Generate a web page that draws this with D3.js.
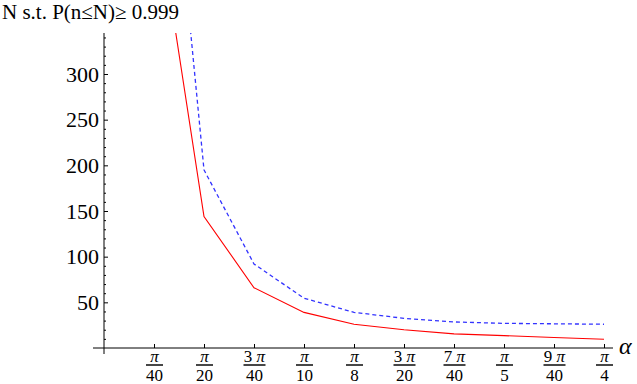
<!DOCTYPE html>
<html>
<head>
<meta charset="utf-8">
<script src="https://cdn.jsdelivr.net/npm/d3@7"></script>
<style>
  body { margin: 0; background: #fff; }
</style>
</head>
<body>
<div id="chart"></div>
<script>
// alpha values in units of pi/40
var alphaSteps = [1, 2, 3, 4, 5, 6, 7, 8, 9, 10];
var redN = [500, 144, 66, 39, 26, 20, 15.5, 13.5, 11.5, 9.5];
var blueN = [760, 195, 92, 54.5, 39, 32.5, 28.5, 27, 26.5, 26];

var yMajor = [50, 100, 150, 200, 250, 300];
var yMinor = d3.range(10, 350, 10).filter(function(v) { return v % 50 != 0; });
var tickCoef = ["", "", "3 ", "", "", "3 ", "7 ", "", "9 ", ""]; // numerator multiplier of pi
var tickDenom = ["40", "20", "40", "10", "8", "20", "40", "5", "40", "4"];

var width = 637, height = 384;
var serif = "Liberation Serif";

const svg = d3.select("#chart")
    .append("svg")
    .attr("width", width)
    .attr("height", height);

const x = d3.scaleLinear().domain([0, Math.PI / 4]).range([104, 604]);
const y = d3.scaleLinear().domain([0, 300]).range([348, 74]);

// plot area limits (a little padding around the axes)
const xLo = x.invert(93), xHi = x.invert(613);
const yLo = y.invert(354), yHi = y.invert(33);

svg.append("defs").append("clipPath")
    .attr("id", "plotClip")
    .append("rect")
    .attr("x", x(xLo))
    .attr("y", y(yHi))
    .attr("width", x(xHi) - x(xLo))
    .attr("height", y(yLo) - y(yHi));

// axes lines
svg.append("line")
    .attr("x1", x(xLo)).attr("x2", x(xHi))
    .attr("y1", y(0)).attr("y2", y(0))
    .attr("stroke", "#000");
svg.append("line")
    .attr("x1", x(0)).attr("x2", x(0))
    .attr("y1", y(yLo)).attr("y2", y(yHi))
    .attr("stroke", "#000");

// y axis: major ticks point inward, labels on the left
const yAxis = svg.append("g")
    .attr("transform", "translate(" + x(0) + ",0)")
    .attr("font-family", serif)
    .call(d3.axisLeft(y).tickValues(yMajor).tickSizeInner(-4).tickSizeOuter(0).tickPadding(5));
yAxis.attr("font-family", serif).attr("font-size", 22);
yAxis.select(".domain").remove();
yAxis.selectAll("text")
    .attr("font-family", serif)
    .attr("font-size", 22)
    .attr("dy", "0.33em")
    .attr("fill", "#000");

const yAxisMinor = svg.append("g")
    .attr("transform", "translate(" + x(0) + ",0)")
    .call(d3.axisLeft(y).tickValues(yMinor).tickSizeInner(-2).tickSizeOuter(0).tickFormat(""));
yAxisMinor.select(".domain").remove();

// x axis: ticks point up, fraction labels below
const xAxis = svg.append("g")
    .attr("transform", "translate(0," + y(0) + ")")
    .call(d3.axisBottom(x)
        .tickValues(alphaSteps.map(function(k) { return k * Math.PI / 40; }))
        .tickSizeInner(-4).tickSizeOuter(0).tickFormat(""));
xAxis.attr("font-family", serif);
xAxis.select(".domain").remove();

xAxis.selectAll(".tick").each(function(d, i) {
    const g = d3.select(this);
    const num = g.append("text")
        .attr("y", 13.5)
        .attr("text-anchor", "middle")
        .attr("font-family", serif)
        .attr("font-size", 17)
        .attr("fill", "#000");
    if (tickCoef[i]) num.append("tspan").text(tickCoef[i]);
    num.append("tspan").attr("font-style", "italic").text("\u03c0");
    const w = tickCoef[i] ? 11 : 8.5;
    g.append("line")
        .attr("x1", -w).attr("x2", w)
        .attr("y1", 17).attr("y2", 17)
        .attr("stroke", "#333")
        .attr("stroke-width", 1.8);
    g.append("text")
        .attr("y", 33)
        .attr("text-anchor", "middle")
        .attr("font-family", serif)
        .attr("font-size", 17)
        .attr("fill", "#000")
        .text(tickDenom[i]);
});

// the two curves
const line = d3.line()
    .x(function(d) { return x(d[0] * Math.PI / 40); })
    .y(function(d) { return y(d[1]); });

const lines = svg.append("g").attr("clip-path", "url(#plotClip)");

lines.append("path")
    .datum(alphaSteps.map(function(k, i) { return [k, redN[i]]; }))
    .attr("d", line)
    .attr("fill", "none")
    .attr("stroke", "#ff0000")
    .attr("stroke-width", 1.1);

lines.append("path")
    .datum(alphaSteps.map(function(k, i) { return [k, blueN[i]]; }))
    .attr("d", line)
    .attr("fill", "none")
    .attr("stroke", "#3333ff")
    .attr("stroke-width", 1.3)
    .attr("stroke-dasharray", "4,3");

// labels
svg.append("text")
    .attr("x", 2)
    .attr("y", 19)
    .attr("font-family", serif)
    .attr("font-size", 21)
    .text("N s.t. P(n\u2264N)\u2265 0.999");

svg.append("text")
    .attr("x", 619)
    .attr("y", 354)
    .attr("font-family", serif)
    .attr("font-size", 24)
    .attr("font-style", "italic")
    .text("\u03b1");
</script>
</body>
</html>
